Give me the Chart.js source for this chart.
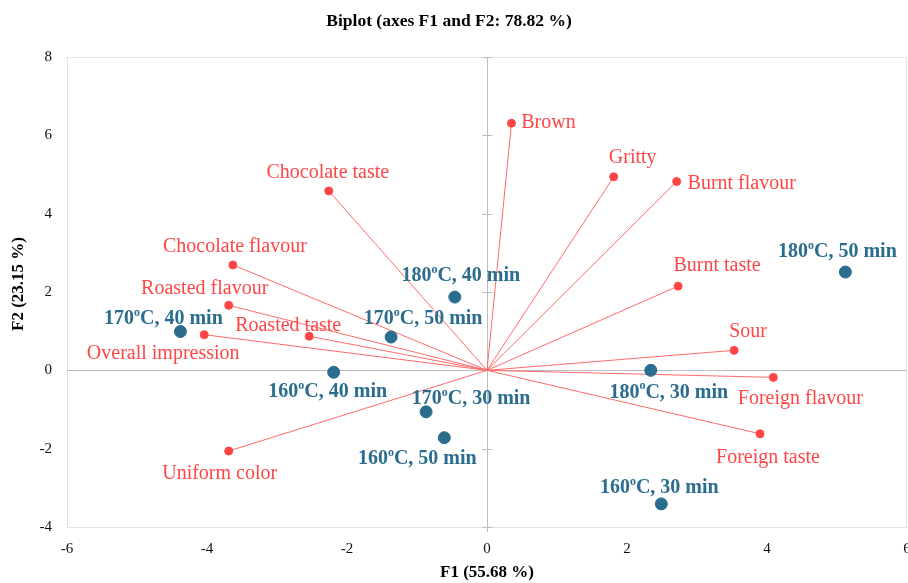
<!DOCTYPE html>
<html>
<head>
<meta charset="utf-8">
<script src="https://cdn.jsdelivr.net/npm/chart.js@4.4.1/dist/chart.umd.min.js"></script>
<style>
  html, body { margin: 0; padding: 0; background: #fff; }
  canvas { display: block; }
</style>
</head>
<body>
<canvas id="biplot" width="908" height="583"></canvas>
<script>
// Observations (roasting conditions), "^o" marks the raised o
const obsNames = ['180^oC, 40 min', '170^oC, 50 min', '170^oC, 40 min', '160^oC, 40 min', '170^oC, 30 min',
    '160^oC, 50 min', '180^oC, 50 min', '180^oC, 30 min', '160^oC, 30 min'];
const obsF1 = [-0.46, -1.37, -4.38, -2.19, -0.87, -0.61, 5.12, 2.34, 2.49];
const obsF2 = [1.87, 0.85, 0.99, -0.05, -1.06, -1.72, 2.51, 0.00, -3.41];

// Variables (sensory attributes)
const varNames = ['Brown', 'Gritty', 'Burnt flavour', 'Burnt taste', 'Sour', 'Foreign flavour', 'Foreign taste',
    'Chocolate taste', 'Chocolate flavour', 'Roasted flavour', 'Roasted taste', 'Overall impression', 'Uniform color'];
const varF1 = [0.35, 1.81, 2.71, 2.73, 3.53, 4.09, 3.90, -2.26, -3.63, -3.69, -2.54, -4.04, -3.69];
const varF2 = [6.31, 4.94, 4.82, 2.15, 0.51, -0.18, -1.62, 4.58, 2.69, 1.66, 0.87, 0.91, -2.06];

// axis ranges / ticks
const xTicks = [-6, -4, -2, 0, 2, 4, 6];
const yTicks = [-4, -2, 0, 2, 4, 6, 8];

// label placement (pixel offset of text centre from the point)
const obsLabelOffset = [[6, -21], [32, -18], [-17, -13], [-6, 20], [45, -13], [-27, 21], [-8, -20], [18, 22], [-2, -16]];
const varLabelOffset = [[37, 0], [19, -19], [65, 2], [39, -20], [14, -19], [27, 21], [8, 24],
    [-1, -18], [2, -18], [-24, -17], [-21, -11], [-41, 19], [-9, 23]];

const BLUE = '#2a6d8e';
const RED = '#ff4545';
const LINE_RED = '#ff6a6a';
const SERIF = '"Liberation Serif", "Times New Roman", serif';

const datasets = [{
    label: 'Observations',
    data: obsF1.map((x, i) => ({ x: x, y: obsF2[i] })),
    backgroundColor: BLUE,
    borderColor: BLUE,
    pointRadius: 6,
    pointHoverRadius: 6,
    order: 0
}];
varNames.forEach((name, i) => {
    datasets.push({
        label: name,
        data: [{ x: 0, y: 0 }, { x: varF1[i], y: varF2[i] }],
        showLine: true,
        borderColor: LINE_RED,
        borderWidth: 1,
        backgroundColor: RED,
        pointBackgroundColor: RED,
        pointBorderColor: RED,
        pointRadius: [0, 4],
        pointHoverRadius: [0, 4],
        order: 1
    });
});

// draws "180^oC" style text centred at x,y
function drawLabel(ctx, text, x, y, size, weight, color) {
    const parts = text.split('^o');
    const big = weight + ' ' + size + 'px ' + SERIF;
    const small = weight + ' ' + Math.round(size * 0.62) + 'px ' + SERIF;
    ctx.font = big;
    const w0 = ctx.measureText(parts[0]).width;
    const w2 = parts.length > 1 ? ctx.measureText(parts[1]).width : 0;
    ctx.font = small;
    const w1 = parts.length > 1 ? ctx.measureText('o').width : 0;
    let cx = x - (w0 + w1 + w2) / 2;
    ctx.fillStyle = color;
    ctx.textAlign = 'left';
    ctx.textBaseline = 'middle';
    ctx.font = big;
    ctx.fillText(parts[0], cx, y);
    cx += w0;
    if (parts.length > 1) {
        ctx.font = small;
        ctx.fillText('o', cx, y - size * 0.3);
        cx += w1;
        ctx.font = big;
        ctx.fillText(parts[1], cx, y);
    }
}

const framePlugin = {
    id: 'frame',
    beforeDatasetsDraw(chart) {
        const ctx = chart.ctx;
        const a = chart.chartArea;
        const xs = chart.scales.x, ys = chart.scales.y;
        const x0 = Math.round(xs.getPixelForValue(0)) + 0.5;
        const y0 = Math.round(ys.getPixelForValue(0)) + 0.5;
        ctx.save();
        ctx.lineWidth = 1;
        ctx.strokeStyle = '#e3e3e3';
        ctx.strokeRect(a.left + 0.5, a.top + 0.5, a.right - a.left - 1, a.bottom - a.top);
        ctx.strokeStyle = '#bdbdbd';
        ctx.beginPath();
        ctx.moveTo(a.left, y0); ctx.lineTo(a.right, y0);
        ctx.moveTo(x0, a.top); ctx.lineTo(x0, a.bottom + 5);
        yTicks.forEach(v => {
            const py = Math.round(ys.getPixelForValue(v)) + 0.5;
            ctx.moveTo(x0 - 5, py); ctx.lineTo(x0 + 5, py);
        });
        ctx.stroke();
        ctx.restore();
    },
    afterDatasetsDraw(chart) {
        const ctx = chart.ctx;
        ctx.save();
        const obsMeta = chart.getDatasetMeta(0);
        obsNames.forEach((name, i) => {
            const p = obsMeta.data[i];
            drawLabel(ctx, name, p.x + obsLabelOffset[i][0], p.y + obsLabelOffset[i][1], 20, 'bold', BLUE);
        });
        varNames.forEach((name, i) => {
            const p = chart.getDatasetMeta(i + 1).data[1];
            drawLabel(ctx, name, p.x + varLabelOffset[i][0], p.y + varLabelOffset[i][1], 20, 'normal', RED);
        });
        // titles
        ctx.fillStyle = '#000';
        ctx.textAlign = 'center';
        ctx.textBaseline = 'middle';
        ctx.font = 'bold 17.5px ' + SERIF;
        ctx.fillText('Biplot (axes F1 and F2: 78.82 %)', 449, 21);
        ctx.font = 'bold 17px ' + SERIF;
        ctx.fillText('F1 (55.68 %)', chart.scales.x.getPixelForValue(0), 573);
        ctx.translate(19, 284);
        ctx.rotate(-Math.PI / 2);
        ctx.fillText('F2 (23.15 %)', 0, 0);
        ctx.restore();
    }
};

const ctx = document.getElementById('biplot').getContext('2d');
const biplot = new Chart(ctx, {
    type: 'scatter',
    data: { datasets: datasets },
    options: {
        responsive: false,
        animation: false,
        layout: { autoPadding: false, padding: { top: 57, right: 1, left: 0, bottom: 0 } },
        plugins: {
            legend: { display: false },
            tooltip: { enabled: false }
        },
        scales: {
            x: {
                min: -6, max: 6,
                afterBuildTicks: s => { s.ticks = xTicks.map(v => ({ value: v })); },
                afterFit: s => { s.height = 56; s.paddingLeft = 0; s.paddingRight = 0; },
                grid: { display: false },
                border: { display: false },
                ticks: { padding: 5, color: '#111', font: { family: SERIF, size: 15 } }
            },
            y: {
                min: -4, max: 8,
                afterBuildTicks: s => { s.ticks = yTicks.map(v => ({ value: v })); },
                afterFit: s => { s.width = 67; s.paddingTop = 0; s.paddingBottom = 0; },
                grid: { display: false },
                border: { display: false },
                ticks: { padding: 7, color: '#111', font: { family: SERIF, size: 15 } }
            }
        }
    },
    plugins: [framePlugin]
});
</script>
</body>
</html>
